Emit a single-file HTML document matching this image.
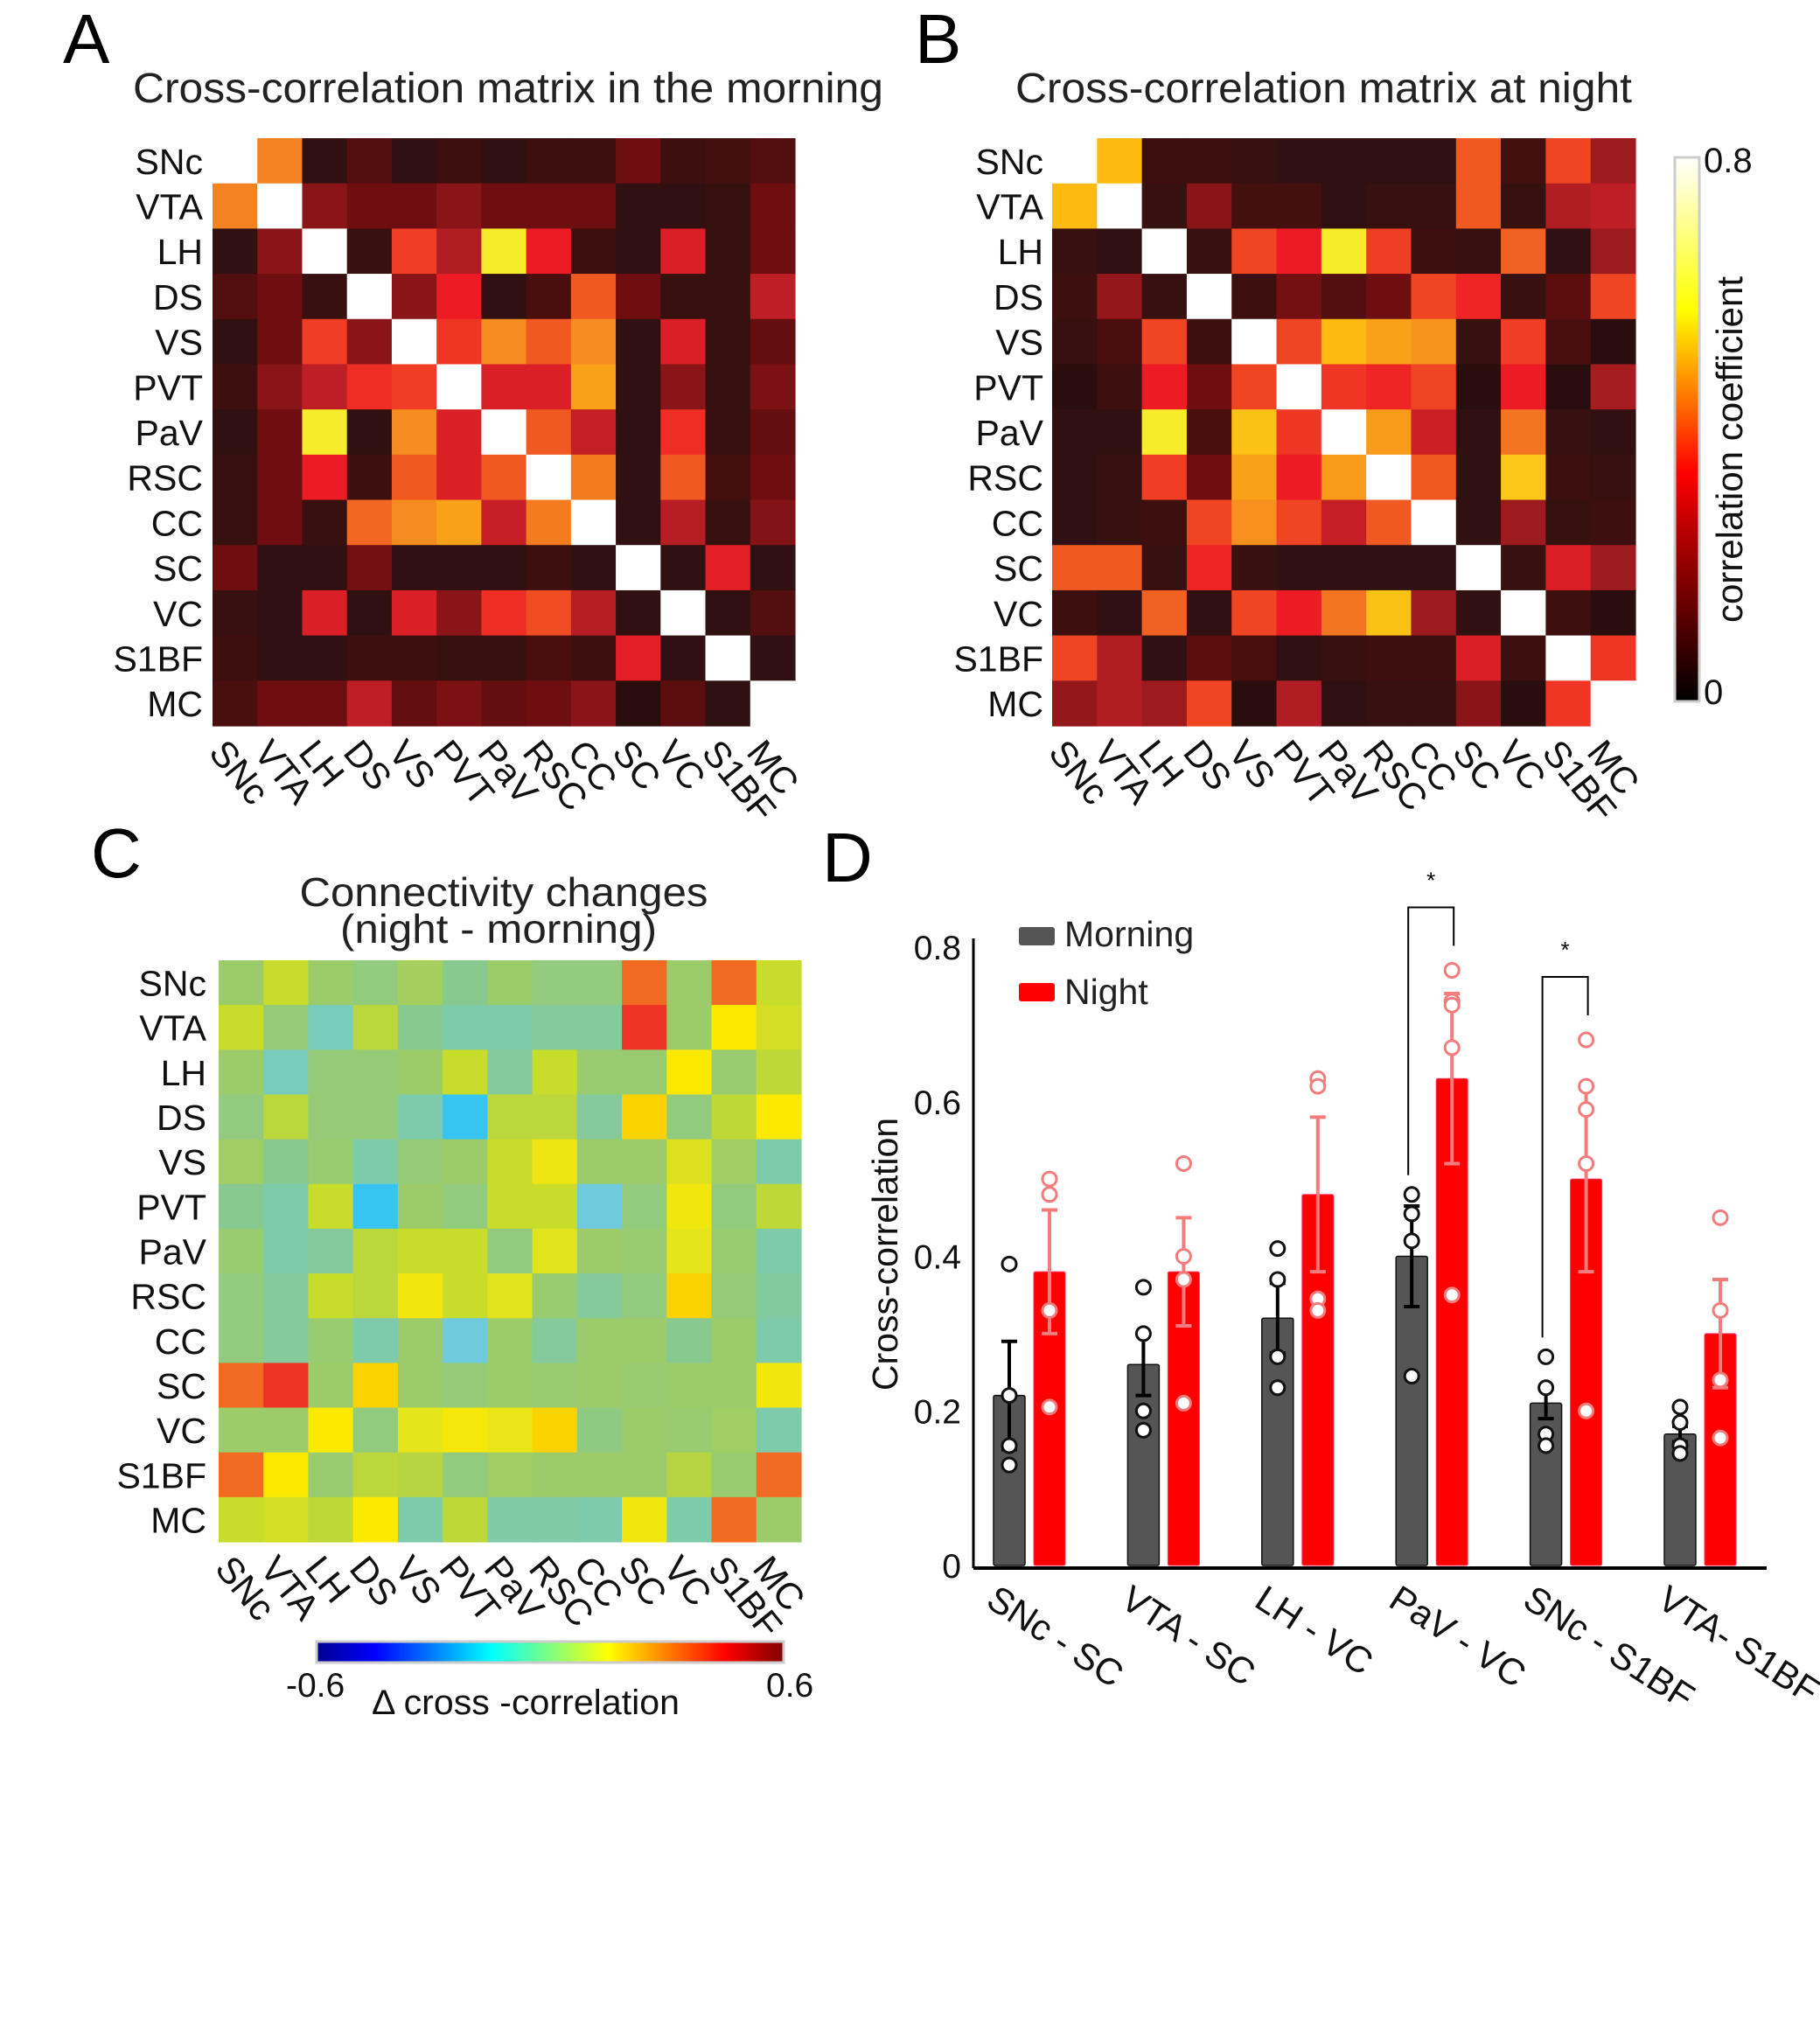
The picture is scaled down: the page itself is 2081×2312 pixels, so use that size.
<!DOCTYPE html>
<html><head><meta charset="utf-8">
<style>
html,body{margin:0;padding:0;background:#fff;}
svg{display:block;font-family:"Liberation Sans",Arial,sans-serif;}
</style></head>
<body>
<svg id="fig" width="2081" height="2312" viewBox="0 0 2081 2312" xmlns="http://www.w3.org/2000/svg">
  <rect x="0" y="0" width="2081" height="2312" fill="#fff"/>
  <text x="72" y="72" font-size="80">A</text>
  <text x="152" y="117" font-size="48" textLength="858" lengthAdjust="spacingAndGlyphs" fill="#222">Cross-correlation matrix in the morning</text>
  <text x="1046" y="72" font-size="80">B</text>
  <text x="1161" y="117" font-size="48" textLength="705" lengthAdjust="spacingAndGlyphs" fill="#222">Cross-correlation matrix at night</text>
  <text x="104" y="1003" font-size="80">C</text>
  <text x="576" y="1036" font-size="46" text-anchor="middle" textLength="467" lengthAdjust="spacingAndGlyphs" fill="#222">Connectivity changes</text>
  <text x="570" y="1078" font-size="46" text-anchor="middle" textLength="362" lengthAdjust="spacingAndGlyphs" fill="#222">(night - morning)</text>
  <text x="940" y="1008" font-size="80">D</text>
  <g id="gA"></g>
  <g id="gB"></g>
  <g id="gC"></g>
  <g id="gCB"></g>
  <g id="gD"></g>
</svg>
<script>
const regions = ["SNc","VTA","LH","DS","VS","PVT","PaV","RSC","CC","SC","VC","S1BF","MC"];
const morningMatrix = [
[.8,.46,.08,.13,.08,.1,.08,.1,.1,.16,.1,.11,.13],
[.46,.8,.2,.16,.16,.2,.16,.16,.16,.08,.08,.09,.16],
[.08,.2,.8,.09,.36,.24,.64,.32,.1,.08,.30,.09,.16],
[.13,.16,.09,.8,.2,.32,.08,.12,.40,.16,.09,.09,.26],
[.08,.16,.36,.2,.8,.35,.48,.40,.48,.08,.30,.09,.15],
[.1,.2,.26,.34,.36,.8,.30,.30,.52,.08,.2,.09,.18],
[.08,.16,.64,.08,.48,.30,.8,.40,.27,.08,.34,.09,.15],
[.09,.16,.32,.1,.40,.30,.40,.8,.45,.08,.40,.11,.16],
[.09,.16,.09,.42,.48,.52,.27,.45,.8,.08,.25,.09,.19],
[.16,.08,.08,.17,.08,.08,.08,.1,.08,.8,.08,.31,.08],
[.09,.08,.30,.08,.30,.2,.34,.38,.25,.08,.8,.08,.13],
[.1,.08,.08,.1,.1,.09,.09,.12,.1,.31,.08,.8,.08],
[.12,.16,.16,.26,.15,.18,.15,.16,.2,.07,.14,.08,.8]];
const nightMatrix = [
[.8,.56,.1,.1,.09,.08,.08,.08,.08,.40,.11,.37,.22],
[.56,.8,.09,.2,.11,.11,.08,.09,.09,.40,.09,.24,.26],
[.09,.08,.8,.09,.37,.32,.64,.36,.1,.09,.41,.08,.22],
[.1,.21,.09,.8,.1,.17,.13,.16,.37,.33,.09,.14,.37],
[.09,.12,.37,.1,.8,.37,.56,.52,.50,.09,.36,.12,.07],
[.07,.1,.32,.16,.37,.8,.35,.33,.37,.07,.32,.07,.23],
[.08,.08,.64,.12,.57,.35,.8,.51,.28,.08,.44,.09,.08],
[.08,.09,.36,.16,.52,.32,.51,.8,.40,.08,.58,.1,.09],
[.08,.09,.1,.37,.49,.37,.27,.40,.8,.08,.22,.09,.1],
[.40,.40,.09,.33,.09,.08,.08,.08,.08,.8,.09,.30,.22],
[.1,.08,.41,.08,.37,.32,.44,.57,.22,.08,.8,.1,.07],
[.37,.24,.08,.14,.12,.08,.09,.1,.1,.30,.1,.8,.35],
[.21,.24,.22,.37,.07,.24,.08,.09,.09,.2,.07,.35,.8]];
const changeMatrix = [
[-.04,.08,-.04,-.07,-.02,-.1,-.04,-.07,-.07,.36,-.04,.36,.08],
[.08,-.06,-.18,.04,-.1,-.15,-.15,-.12,-.12,.44,-.04,.2,.1],
[-.04,-.18,-.06,-.06,-.04,.08,-.12,.08,-.05,-.05,.2,-.05,.05],
[-.07,.04,-.06,-.06,-.15,-.3,.04,.04,-.12,.26,-.07,.05,.2],
[-.03,-.1,-.05,-.15,-.06,-.04,.08,.16,-.04,-.04,.12,-.03,-.15],
[-.1,-.15,.08,-.3,-.04,-.07,.08,.08,-.24,-.07,.17,-.07,.05],
[-.05,-.15,-.12,.04,.08,.08,-.07,.13,-.04,-.05,.14,-.05,-.15],
[-.07,-.12,.08,.04,.17,.08,.13,-.05,-.12,-.07,.26,-.06,-.13],
[-.07,-.12,-.05,-.15,-.04,-.24,-.04,-.12,-.04,-.04,-.1,-.04,-.15],
[.36,.44,-.04,.26,-.04,-.06,-.04,-.05,-.04,-.05,-.04,-.04,.17],
[-.04,-.04,.2,-.07,.14,.18,.15,.26,-.08,-.04,-.05,-.03,-.15],
[.36,.2,-.05,.04,.03,-.07,-.03,-.04,-.04,-.04,.03,-.05,.36],
[.08,.1,.05,.2,-.15,.05,-.14,-.14,-.15,.17,-.15,.36,-.04]];

const pairs = ["SNc - SC","VTA - SC","LH - VC","PaV - VC","SNc - S1BF","VTA- S1BF"];
const morningMean = [.22,.26,.32,.40,.21,.17];
const morningErr = [.07,.04,.045,.065,.02,.01];
const nightMean = [.38,.38,.48,.63,.50,.30];
const nightErr = [.08,.07,.10,.11,.12,.07];
const morningPts = [[.39,.22,.155,.13],[.36,.30,.20,.175],[.41,.37,.27,.23],[.48,.455,.42,.245],[.27,.23,.17,.155],[.205,.185,.155,.145]];
const nightPts = [[.50,.48,.33,.205],[.52,.40,.37,.21],[.63,.62,.345,.33],[.77,.73,.725,.67,.35],[.68,.62,.59,.52,.20],[.45,.33,.24,.165]];
const yTicks = [0,0.2,0.4,0.6,0.8];
const yTickLabels = ["0","0.2","0.4","0.6","0.8"];
const sigGroups = [3,4];

const NS="http://www.w3.org/2000/svg";
function mk(tag, attrs, parent){const e=document.createElementNS(NS,tag);for(const k in attrs)e.setAttribute(k,attrs[k]);parent.appendChild(e);return e;}
function hex2rgb(h){return [parseInt(h.substr(1,2),16),parseInt(h.substr(3,2),16),parseInt(h.substr(5,2),16)];}
function interp(stops,v){
  if(v<=stops[0][0])return stops[0][1];
  for(let i=1;i<stops.length;i++){if(v<=stops[i][0]){const a=stops[i-1],b=stops[i];const t=(v-a[0])/(b[0]-a[0]);const c1=hex2rgb(a[1]),c2=hex2rgb(b[1]);return "rgb("+c1.map((c,j)=>Math.round(c+(c2[j]-c)*t)).join(",")+")";}}
  return stops[stops.length-1][1];
}
const hotStops=[[0,"#000000"],[.08,"#301010"],[.12,"#4a0e0e"],[.16,"#6e0e10"],[.2,"#8a1518"],[.24,"#b01e24"],[.30,"#da1f26"],[.32,"#ed1c24"],[.36,"#ef3e23"],[.40,"#f05a22"],[.46,"#f58220"],[.50,"#f7941d"],[.56,"#fdbb12"],[.64,"#f7ec2a"],[.79,"#ffffff"]];
const jetStops=[[-.6,"#00008f"],[-.45,"#0050ff"],[-.3,"#38c4f0"],[-.24,"#6ecadc"],[-.16,"#7ccbb0"],[-.1,"#88c990"],[-.04,"#9ccc6a"],[.02,"#b4d444"],[.08,"#c8dc2a"],[.14,"#e6e41a"],[.2,"#fde900"],[.26,"#fcd200"],[.36,"#f26b22"],[.44,"#ee3424"],[.6,"#8b0000"]];

function heatmap(g, mat, x0, y0, x1, y1, stops, name, labelRight){
  const n=regions.length, cw=(x1-x0)/n, ch=(y1-y0)/n;
  const xs=i=>x0+i*cw, ys=j=>y0+j*ch;
  mat.forEach((row,r)=>row.forEach((v,c)=>{
    const rc=mk("rect",{x:xs(c),y:ys(r),width:cw+0.6,height:ch+0.6,fill:interp(stops,v)},g);
    
    
  }));
  regions.forEach((lab,i)=>{
    const t=mk("text",{x:labelRight,y:ys(i)+ch/2+15,"font-size":41,"text-anchor":"end",fill:"#111"},g);
    t.textContent=lab;
    
    
    const t2=mk("text",{x:0,y:0,"font-size":42,fill:"#111","transform":"translate("+(xs(i)+18)+","+(y1+12)+") rotate(51)","dominant-baseline":"hanging"},g);
    t2.textContent=lab;
    
    
  });
}
heatmap(document.getElementById("gA"),morningMatrix,243,158,909,830,hotStops,"morning",232);
heatmap(document.getElementById("gB"),nightMatrix,1203,158,1870,830,hotStops,"night",1193);
heatmap(document.getElementById("gC"),changeMatrix,250,1098,916,1763,jetStops,"change",236);

// colorbars
const gCB=document.getElementById("gCB");
const defs=mk("defs",{},gCB);
const lg1=mk("linearGradient",{id:"hotg",x1:"0",y1:"1",x2:"0",y2:"0"},defs);
[["0","#000000"],["0.3","#b00000"],["0.42","#ff0000"],["0.72","#ffff00"],["1","#ffffff"]].forEach(s=>mk("stop",{offset:s[0],"stop-color":s[1]},lg1));
const lg2=mk("linearGradient",{id:"jetg",x1:"0",y1:"0",x2:"1",y2:"0"},defs);
[["0","#00008f"],["0.125","#0000ff"],["0.375","#00ffff"],["0.625","#ffff00"],["0.875","#ff0000"],["1","#800000"]].forEach(s=>mk("stop",{offset:s[0],"stop-color":s[1]},lg2));
const cb1=mk("rect",{x:1915,y:180,width:28,height:622,fill:"url(#hotg)",stroke:"#ccc","stroke-width":3},gCB);

let t=mk("text",{x:1948,y:197,"font-size":40,fill:"#111"},gCB);t.textContent="0.8";

t=mk("text",{x:1948,y:805,"font-size":40,fill:"#111"},gCB);t.textContent="0";

t=mk("text",{x:0,y:0,"font-size":42,fill:"#111","text-anchor":"middle","transform":"translate(1992,514) rotate(-90)"},gCB);t.textContent="correlation coefficient";

const cb2=mk("rect",{x:362,y:1877,width:534,height:24,fill:"url(#jetg)",stroke:"#ccc","stroke-width":3},gCB);

t=mk("text",{x:327,y:1940,"font-size":39,fill:"#111"},gCB);t.textContent="-0.6";

t=mk("text",{x:876,y:1940,"font-size":39,fill:"#111"},gCB);t.textContent="0.6";

t=mk("text",{x:425,y:1960,"font-size":40,fill:"#111",textLength:352,lengthAdjust:"spacingAndGlyphs"},gCB);t.textContent="Δ cross -correlation";


// bar chart
const gD=document.getElementById("gD");
const Y0=1790, Y1=1083, AX=1113, AXEND=2020;
const yS=v=>Y0+(Y1-Y0)*v/0.8;
const gx0=1136, gstep=153.4, bw=36, gap=10;
const mX=i=>gx0+i*gstep, nX=i=>gx0+i*gstep+bw+gap;
let l=mk("line",{x1:AX,y1:Y1-10,x2:AX,y2:Y0+3,stroke:"#000","stroke-width":3},gD);

l=mk("line",{x1:AX,y1:Y0+3,x2:AXEND,y2:Y0+3,stroke:"#000","stroke-width":4},gD);

yTicks.forEach((v,i)=>{const tt=mk("text",{x:1099,y:yS(v)+14,"font-size":39,"text-anchor":"end",fill:"#111"},gD);tt.textContent=yTickLabels[i];
});
t=mk("text",{x:0,y:0,"font-size":41,fill:"#111","text-anchor":"middle","transform":"translate(1026,1434) rotate(-90)"},gD);t.textContent="Cross-correlation";

function circ(x,y,col){const c=mk("circle",{cx:x,cy:y,r:8,fill:"#fff",stroke:col,"stroke-width":3},gD);}
pairs.forEach((p,i)=>{
  const mb=mk("rect",{x:mX(i),y:yS(morningMean[i]),width:bw,height:Y0-yS(morningMean[i]),fill:"#555",stroke:"#111","stroke-width":1.5,rx:2},gD);
  
  const nb=mk("rect",{x:nX(i),y:yS(nightMean[i]),width:bw,height:Y0-yS(nightMean[i]),fill:"#ff0000",stroke:"#f36","stroke-width":1,rx:2},gD);
  
  [[mX(i)+bw/2,morningMean[i],morningErr[i],"#000"],[nX(i)+bw/2,nightMean[i],nightErr[i],"#f47c7c"]].forEach(a=>{
    const e=mk("path",{d:"M"+a[0]+","+yS(a[1]-a[2])+"V"+yS(a[1]+a[2])+"M"+(a[0]-9)+","+yS(a[1]+a[2])+"h18M"+(a[0]-9)+","+yS(a[1]-a[2])+"h18",stroke:a[3],"stroke-width":4,fill:"none"},gD);
    
  });
  morningPts[i].forEach(v=>circ(mX(i)+bw/2,yS(v),"#111"));
  nightPts[i].forEach(v=>circ(nX(i)+bw/2,yS(v),"#f47c7c"));
  const xl=mk("text",{x:0,y:0,"font-size":42,fill:"#111","dominant-baseline":"hanging","transform":"translate("+(mX(i)+6)+","+(Y0+20)+") rotate(33)"},gD);
  xl.textContent=p;
  
});
sigGroups.forEach(i=>{
  const xL=mX(i)+bw/2-4, xR=nX(i)+bw/2+2;
  const top=yS(Math.max(...nightPts[i]))-72;
  const bottom=yS(Math.max(...morningPts[i])+0.025);
  const br=mk("path",{d:"M"+xL+","+bottom+"V"+top+"H"+xR+"V"+(top+44),stroke:"#000","stroke-width":2,fill:"none"},gD);
  
  const st=mk("text",{x:(xL+xR)/2,y:top-22,"font-size":26,"text-anchor":"middle"},gD);st.textContent="*";
  
});
// legend
let lr=mk("rect",{x:1165,y:1060,width:41,height:21,fill:"#555",rx:3},gD);

t=mk("text",{x:1217,y:1082,"font-size":41,fill:"#222"},gD);t.textContent="Morning";

lr=mk("rect",{x:1165,y:1124,width:41,height:21,fill:"#ff0000",rx:3},gD);

t=mk("text",{x:1217,y:1148,"font-size":41,fill:"#222"},gD);t.textContent="Night";

</script>
</body></html>
